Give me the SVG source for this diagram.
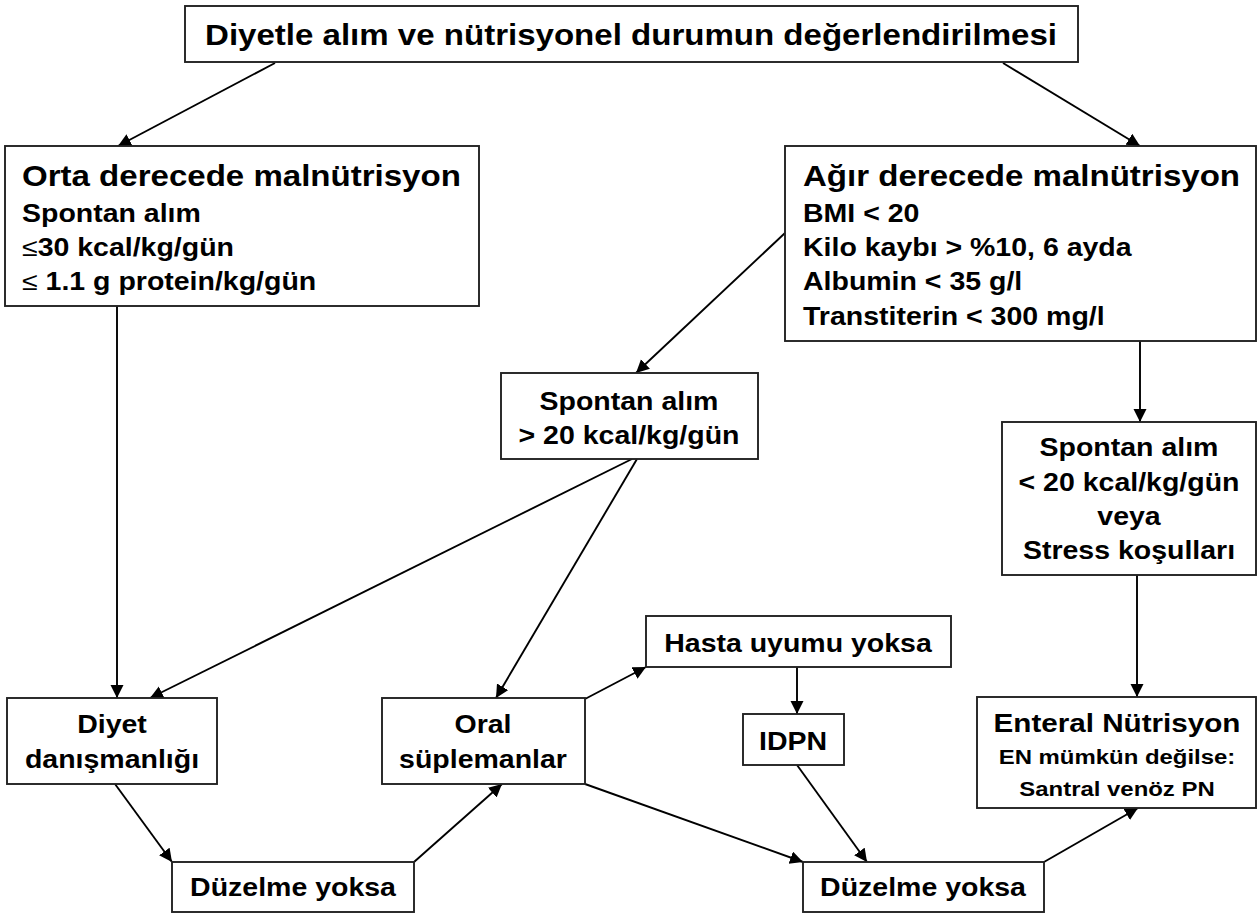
<svg xmlns="http://www.w3.org/2000/svg" width="1258" height="914" viewBox="0 0 1258 914">
<defs>
<style>
rect.box{fill:#fff;stroke:#222;stroke-width:1.9}
text{font-family:"Liberation Sans",Arial,sans-serif;font-weight:bold;fill:#000}
.t{font-size:29px}
.b{font-size:25px}
.s{font-size:21px}
.m{text-anchor:middle}
.sym{font-weight:normal}
#connectors line{stroke:#000;stroke-width:1.9;marker-end:url(#ah)}
</style>
<marker id="ah" markerUnits="userSpaceOnUse" markerWidth="16" markerHeight="14" refX="13" refY="6.5" orient="auto">
<path d="M0,0 L13,6.5 L0,13 Z" fill="#000"/>
</marker>
</defs>
<rect width="1258" height="914" fill="#fff"/>
<g id="connectors">
<line x1="275" y1="63" x2="118" y2="146"/>
<line x1="1003" y1="63" x2="1140" y2="146"/>
<line x1="117" y1="306" x2="117" y2="698"/>
<line x1="785" y1="233" x2="636" y2="373"/>
<line x1="1140" y1="341" x2="1140" y2="422"/>
<line x1="632" y1="459" x2="150" y2="698"/>
<line x1="637" y1="459" x2="496" y2="698"/>
<line x1="1137" y1="575" x2="1137" y2="697"/>
<line x1="115" y1="784" x2="172" y2="862"/>
<line x1="414" y1="862" x2="502" y2="784"/>
<line x1="585" y1="699" x2="646" y2="667"/>
<line x1="797" y1="667" x2="797" y2="714"/>
<line x1="797" y1="765" x2="867" y2="862"/>
<line x1="585" y1="784" x2="803" y2="862"/>
<line x1="1044" y1="862" x2="1138" y2="808"/>
</g>
<g id="n-top">
<rect class="box" x="185" y="6" width="893" height="56"/>
<text class="t m" transform="translate(631,45) scale(1.14,1)">Diyetle alım ve nütrisyonel durumun değerlendirilmesi</text>
</g>
<g id="n-orta">
<rect class="box" x="5" y="146" width="474" height="160"/>
<text class="t" transform="translate(22,186) scale(1.14,1)">Orta derecede malnütrisyon</text>
<text class="b" transform="translate(22,222) scale(1.14,1)">Spontan alım</text>
<text class="b" transform="translate(22,256) scale(1.14,1)"><tspan class="sym">≤</tspan>30 kcal/kg/gün</text>
<text class="b" transform="translate(22,290) scale(1.14,1)"><tspan class="sym">≤</tspan> 1.1 g protein/kg/gün</text>
</g>
<g id="n-agir">
<rect class="box" x="785" y="146" width="471" height="195"/>
<text class="t" transform="translate(803,186) scale(1.14,1)">Ağır derecede malnütrisyon</text>
<text class="b" transform="translate(803,222) scale(1.14,1)">BMI &lt; 20</text>
<text class="b" transform="translate(803,256) scale(1.14,1)">Kilo kaybı &gt; %10, 6 ayda</text>
<text class="b" transform="translate(803,290) scale(1.14,1)">Albumin &lt; 35 g/l</text>
<text class="b" transform="translate(803,325) scale(1.14,1)">Transtiterin &lt; 300 mg/l</text>
</g>
<g id="n-sp20">
<rect class="box" x="501" y="373" width="257" height="86"/>
<text class="b m" transform="translate(629,410) scale(1.14,1)">Spontan alım</text>
<text class="b m" transform="translate(629,444) scale(1.14,1)">&gt; 20 kcal/kg/gün</text>
</g>
<g id="n-spl20">
<rect class="box" x="1002" y="422" width="254" height="153"/>
<text class="b m" transform="translate(1129,456) scale(1.14,1)">Spontan alım</text>
<text class="b m" transform="translate(1129,491) scale(1.14,1)">&lt; 20 kcal/kg/gün</text>
<text class="b m" transform="translate(1129,525) scale(1.14,1)">veya</text>
<text class="b m" transform="translate(1129,559) scale(1.14,1)">Stress koşulları</text>
</g>
<g id="n-diyet">
<rect class="box" x="7" y="698" width="210" height="86"/>
<text class="b m" transform="translate(112,733) scale(1.14,1)">Diyet</text>
<text class="b m" transform="translate(112,768) scale(1.14,1)">danışmanlığı</text>
</g>
<g id="n-oral">
<rect class="box" x="382" y="698" width="203" height="86"/>
<text class="b m" transform="translate(483,733) scale(1.14,1)">Oral</text>
<text class="b m" transform="translate(483,768) scale(1.14,1)">süplemanlar</text>
</g>
<g id="n-hasta">
<rect class="box" x="646" y="616" width="305" height="51"/>
<text class="b m" transform="translate(798,652) scale(1.14,1)">Hasta uyumu yoksa</text>
</g>
<g id="n-idpn">
<rect class="box" x="743" y="714" width="101" height="51"/>
<text class="b m" transform="translate(793,750) scale(1.14,1)">IDPN</text>
</g>
<g id="n-enteral">
<rect class="box" x="977" y="697" width="279" height="111"/>
<text class="b m" transform="translate(1117,732) scale(1.14,1)" style="font-size:26px">Enteral Nütrisyon</text>
<text class="s m" transform="translate(1117,764) scale(1.14,1)">EN mümkün değilse:</text>
<text class="s m" transform="translate(1117,796) scale(1.14,1)">Santral venöz PN</text>
</g>
<g id="n-duz1">
<rect class="box" x="172" y="862" width="242" height="50"/>
<text class="b m" transform="translate(293,896) scale(1.14,1)">Düzelme yoksa</text>
</g>
<g id="n-duz2">
<rect class="box" x="803" y="862" width="241" height="50"/>
<text class="b m" transform="translate(923,896) scale(1.14,1)">Düzelme yoksa</text>
</g>
</svg>
